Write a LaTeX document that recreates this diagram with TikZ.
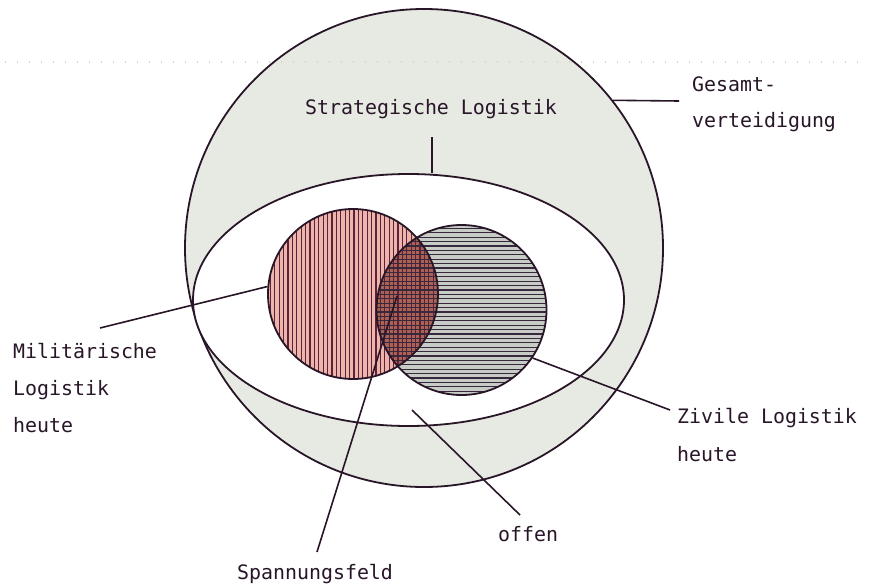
\documentclass[tikz,border=0pt]{standalone}
\usepackage{fontspec}
\usetikzlibrary{shapes.geometric}
\newfontfamily\labelfont{DejaVu Sans Mono}
\definecolor{ink}{RGB}{40,22,40}
\definecolor{outerfill}{RGB}{231,233,227}
\definecolor{pinkfill}{RGB}{234,182,172}
\definecolor{pinkline}{RGB}{100,30,55}
\definecolor{greyfill}{RGB}{200,204,198}
\definecolor{greyline}{RGB}{55,40,60}
\definecolor{mixfill}{RGB}{165,100,85}
\begin{document}
\begin{tikzpicture}[x=1pt,y=-1pt,
  outline/.style={draw=ink,line width=1.8pt,inner sep=0pt},
  lbl/.style={font=\labelfont\fontsize{19.9}{24}\selectfont, text=ink, inner sep=0pt, anchor=base west},
  leader/.style={draw=ink,line width=1.6pt},
  hatch/.style={line width=1.35pt}]
\useasboundingbox (0,0) rectangle (869,586);
\fill[white] (0,0) rectangle (869,586);
% outer circle
\node[circle, minimum size=478pt, outline, fill=outerfill] (gesamt) at (424,248) {};
\draw[gray!35,line width=1.2pt,dash pattern=on 1.2pt off 10.8pt] (5,62) -- (869,62);
% inner ellipse
\node[ellipse, minimum width=431pt, minimum height=252pt, outline, fill=white] (strat) at (408.5,300) {};
% fills
\fill[greyfill] (461.5,310) circle[radius=85];
\fill[pinkfill] (353,294) circle[radius=85];
\begin{scope}
  \clip (353,294) circle[radius=85];
  \fill[mixfill] (461.5,310) circle[radius=85];
\end{scope}
\begin{scope}
  \clip (353,294) circle[radius=85];
  \foreach \i in {0,...,40} \draw[pinkline,hatch] (266+\i*4.4,200) -- ++(0,200);
\end{scope}
\begin{scope}
  \clip (461.5,310) circle[radius=85];
  \foreach \i in {0,...,40} \draw[greyline,hatch] (370,224+\i*4.4) -- ++(190,0);
\end{scope}
\node[circle, minimum size=170pt, outline] (mil) at (353,294) {};
\node[circle, minimum size=170pt, outline] (ziv) at (461.5,310) {};
% labels
\node[lbl] (gesamtA) at (692,91) {Gesamt-};
\node[lbl] (gesamtB) at (692,127) {verteidigung};
\node[lbl] (stratlbl) at (305,114) {Strategische Logistik};
\node[lbl] (milA) at (13,358) {Militärische};
\node[lbl] (milB) at (13,395) {Logistik};
\node[lbl] (milC) at (13,432) {heute};
\node[lbl] (zivA) at (677,423) {Zivile Logistik};
\node[lbl] (zivB) at (677,461) {heute};
\node[lbl] (spann) at (237,579) {Spannungsfeld};
\node[lbl] (offen) at (498,541) {offen};
% leader ends
\coordinate (g2) at (679,101);
\coordinate (s1) at (432,137);
\coordinate (m1) at (100,328);
\coordinate (z1) at (670,410);
\coordinate (sp1) at (397,296);
\coordinate (sp2) at (317,552);
\coordinate (o1) at (412,410);
\coordinate (o2) at (520,515);
% leaders
\draw[leader] (gesamt.38) -- (g2);
\draw[leader] (s1) -- (s1 |- strat.north);
\draw[leader] (m1) -- (mil.175);
\draw[leader] (ziv.-34) -- (z1);
\draw[leader] (sp1) -- (sp2);
\draw[leader] (o1) -- (o2);
\end{tikzpicture}
\end{document}
